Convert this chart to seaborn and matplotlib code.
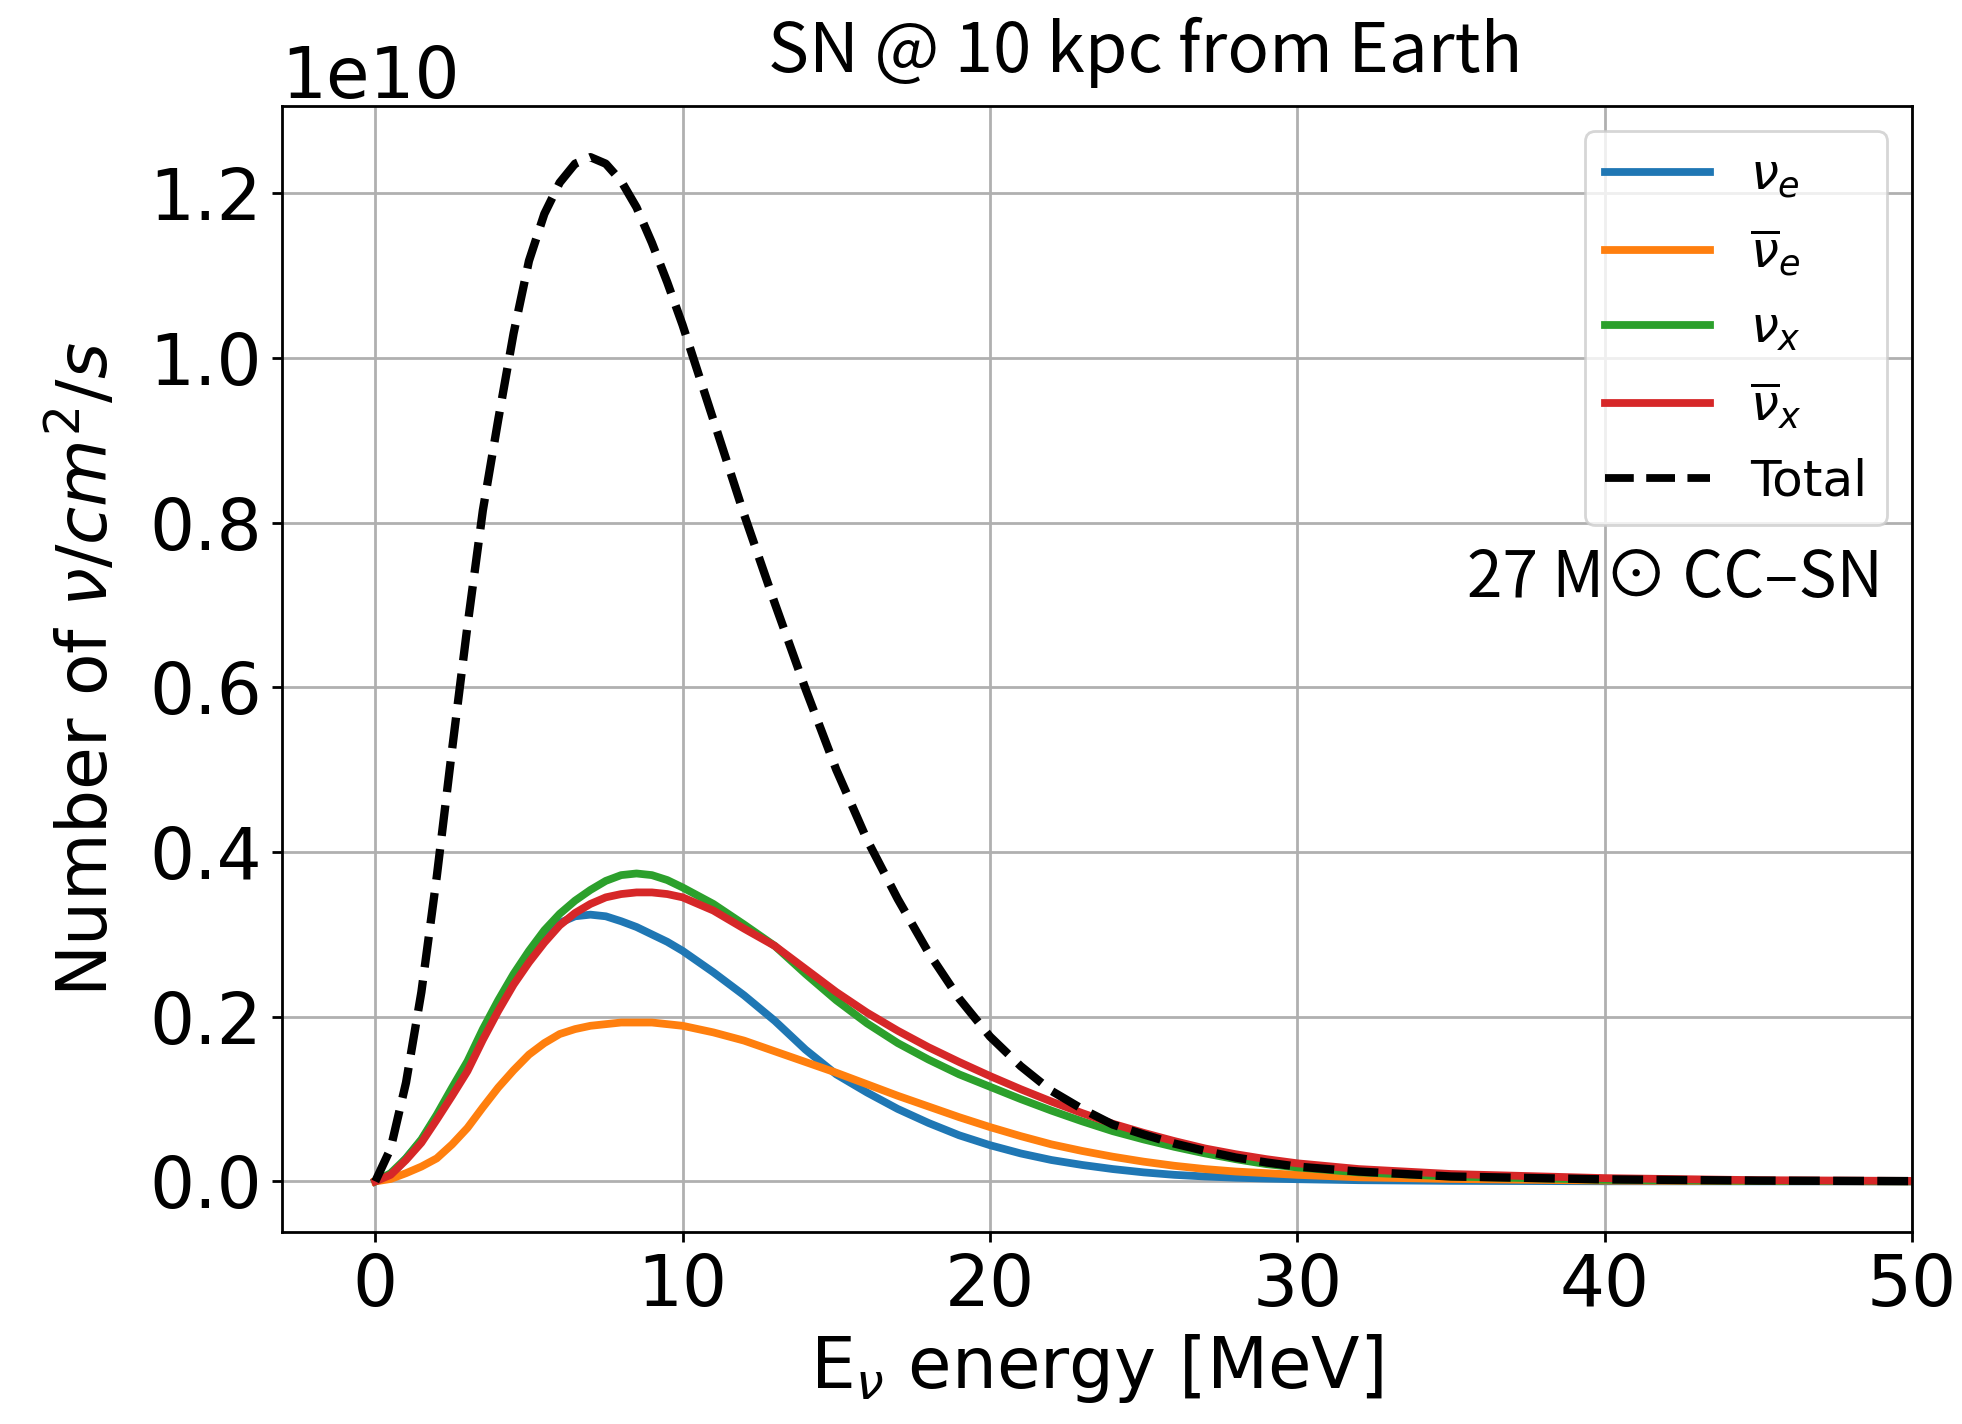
import matplotlib
matplotlib.use("Agg")
import matplotlib.pyplot as plt
import seaborn as sns
import pandas as pd

plt.rcParams["font.family"] = "DejaVu Sans"
plt.rcParams["mathtext.fontset"] = "dejavusans"

# neutrino energy [MeV]
energy = [0, 0.5, 1, 1.5, 2, 2.5, 3, 3.5, 4, 4.5, 5, 5.5, 6, 6.5, 7, 7.5, 8, 8.5, 9, 9.5,
          10, 11, 12, 13, 14, 15, 16, 17, 18, 19, 20, 21, 22, 23, 24, 25, 26, 27, 28, 29,
          30, 32, 35, 40, 45, 50]

# fluxes in units of 1e10 nu/cm^2/s
nu_e = [0, 0.007, 0.028, 0.050, 0.079, 0.110, 0.142, 0.181, 0.217, 0.249, 0.276, 0.298,
        0.314, 0.322, 0.324, 0.322, 0.316, 0.309, 0.300, 0.291,
        0.280, 0.254, 0.226, 0.195, 0.160, 0.130, 0.108, 0.088, 0.071, 0.056,
        0.044, 0.034, 0.026, 0.020, 0.015, 0.011, 0.008, 0.006, 0.0045, 0.0035,
        0.0027, 0.0015, 0.0007, 0.0002, 0.0001, 0.0]
nu_e_bar = [0, 0.003, 0.010, 0.018, 0.028, 0.045, 0.065, 0.090, 0.114, 0.135, 0.154, 0.168,
            0.179, 0.185, 0.189, 0.191, 0.193, 0.193, 0.193, 0.191,
            0.189, 0.181, 0.171, 0.158, 0.145, 0.132, 0.118, 0.104, 0.091, 0.078,
            0.066, 0.055, 0.045, 0.037, 0.030, 0.024, 0.019, 0.015, 0.012, 0.010,
            0.008, 0.005, 0.003, 0.001, 0.0004, 0.0001]
nu_x = [0, 0.010, 0.028, 0.051, 0.081, 0.114, 0.146, 0.185, 0.220, 0.252, 0.280, 0.305,
        0.325, 0.341, 0.354, 0.365, 0.372, 0.374, 0.372, 0.366,
        0.357, 0.337, 0.312, 0.286, 0.252, 0.220, 0.192, 0.168, 0.148, 0.130,
        0.115, 0.100, 0.086, 0.073, 0.061, 0.051, 0.042, 0.034, 0.027, 0.021,
        0.017, 0.011, 0.006, 0.002, 0.0007, 0.0002]
nu_x_bar = [0, 0.008, 0.026, 0.047, 0.075, 0.104, 0.134, 0.172, 0.207, 0.239, 0.266, 0.290,
            0.311, 0.326, 0.337, 0.345, 0.349, 0.351, 0.351, 0.349,
            0.345, 0.329, 0.307, 0.286, 0.258, 0.230, 0.205, 0.183, 0.163, 0.145,
            0.128, 0.112, 0.097, 0.083, 0.070, 0.059, 0.049, 0.040, 0.033, 0.027,
            0.022, 0.015, 0.009, 0.004, 0.0015, 0.0006]
total = [0, 0.040, 0.120, 0.230, 0.370, 0.525, 0.675, 0.815, 0.925, 1.030, 1.118, 1.175,
         1.213, 1.236, 1.244, 1.236, 1.215, 1.183, 1.140, 1.092,
         1.040, 0.925, 0.810, 0.702, 0.598, 0.500, 0.415, 0.343, 0.278, 0.222,
         0.176, 0.140, 0.110, 0.088, 0.069, 0.057, 0.046, 0.037, 0.029, 0.023,
         0.018, 0.012, 0.006, 0.0025, 0.001, 0.0004]

labels = [r"$\nu_e$", r"$\overline{\nu}_e$", r"$\nu_x$", r"$\overline{\nu}_x$", "Total"]
series = [nu_e, nu_e_bar, nu_x, nu_x_bar, total]

frames = []
for lab, vals in zip(labels, series):
    frames.append(pd.DataFrame({"E": energy, "flux": [v * 1e10 for v in vals], "flavour": lab}))
df = pd.concat(frames, ignore_index=True)

tab = sns.color_palette("tab10")
palette = {labels[0]: tab[0], labels[1]: tab[1], labels[2]: tab[2], labels[3]: tab[3], "Total": "black"}
dashes = {l: "" for l in labels[:4]}
dashes["Total"] = (3.7, 1.6)

fig = plt.figure(figsize=(9.81, 7.12), dpi=200)
ax = fig.add_axes([0.1435, 0.1345, 0.831, 0.791])

sns.lineplot(data=df, x="E", y="flux", hue="flavour", style="flavour",
             palette=palette, dashes=dashes, linewidth=2.8, ax=ax, legend=True)
ax.lines[4].set_linewidth(3.0)

ax.set_xlim(-3.05, 50)
ax.set_ylim(-0.062e10, 1.306e10)
ax.grid(True, color="#b0b0b0", linewidth=1.0)
for s in ax.spines.values():
    s.set_linewidth(1.0)
ax.tick_params(labelsize=25.5, width=1.0)
ax.yaxis.get_offset_text().set_fontsize(25.5)

ax.set_xlabel(r"E$_\nu$ energy [MeV]", fontsize=25.5)
ax.set_ylabel(r"Number of $\nu/cm^2/s$", fontsize=25, labelpad=10)

ax.legend(loc="upper right", fontsize=18, handlelength=2.1, labelspacing=0.53)

cjk = ["Noto Sans CJK SC", "DejaVu Sans"]
fig.text(0.5836, 0.963, "SN @ 10 kpc from Earth", ha="center", va="center",
         fontsize=24.8, family=cjk)
ax.text(0.982, 0.58, "27 M⊙ CC–SN", transform=ax.transAxes, ha="right", va="center",
        fontsize=23, family=cjk)

fig.savefig("out.png", dpi=200)
